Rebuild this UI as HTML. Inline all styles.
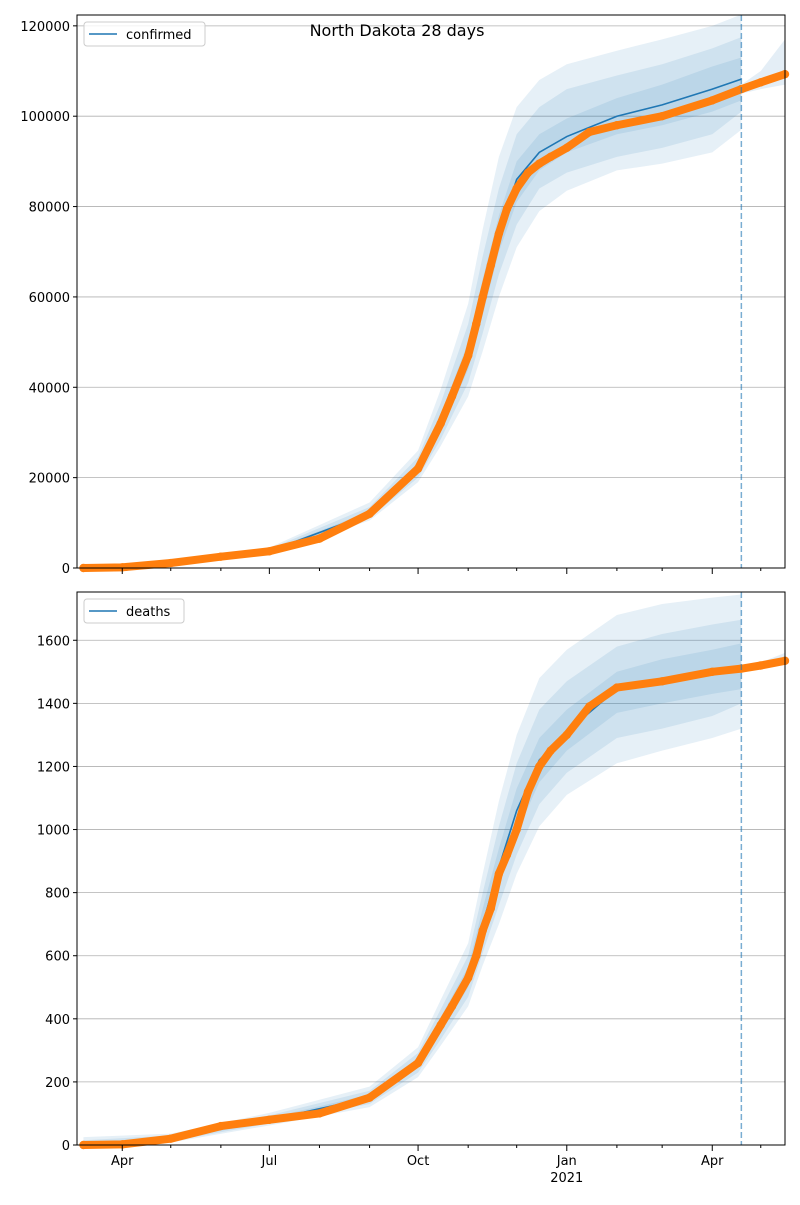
<!DOCTYPE html>
<html><head><meta charset="utf-8"><style>
body{margin:0;background:#fff;font-family:"Liberation Sans","DejaVu Sans",sans-serif}
svg text{font-family:"DejaVu Sans","Liberation Sans",sans-serif;font-size:13px}
</style></head><body>
<svg id="c" width="800" height="1200" xmlns="http://www.w3.org/2000/svg"></svg>
<script>
const obsDates=["2020-03-08","2020-04-01","2020-05-01","2020-06-01","2020-07-01","2020-08-01","2020-09-01","2020-10-01","2020-10-15","2020-10-22","2020-11-01","2020-11-06","2020-11-10","2020-11-15","2020-11-20","2020-11-25","2020-12-01","2020-12-08","2020-12-15","2020-12-22","2021-01-01","2021-01-15","2021-02-01","2021-03-01","2021-04-01","2021-04-19","2021-05-01","2021-05-16"];
const confirmedObs=[0,150,1100,2500,3700,6500,12000,22000,32000,38000,47000,54000,60000,67000,74000,79500,84000,87500,89500,91000,93000,96500,98000,100000,103500,106000,107500,109300];
const deathsObs=[0,2,20,60,80,100,150,260,380,440,530,600,680,750,860,920,1000,1120,1200,1250,1300,1390,1450,1470,1500,1510,1520,1535];
const modelDates=["2020-03-08","2020-05-01","2020-07-01","2020-09-01","2020-10-01","2020-10-15","2020-11-01","2020-11-10","2020-11-20","2020-12-01","2020-12-15","2021-01-01","2021-02-01","2021-03-01","2021-04-01","2021-04-19"];
const confMed=[0,1100,3700,12000,22000,32000,47000,60000,74000,86000,92000,95500,100000,102500,106000,108200];
const confLo1=[0,1000,3500,11500,21000,30000,44000,56000,70000,81000,88000,92000,96000,98000,101000,103500];
const confHi1=[200,1200,3900,12500,23000,34000,50000,64000,78000,90000,96000,99500,104000,107000,111000,113000];
const confLo2=[0,900,3300,11000,20000,28500,41000,52000,65000,76000,84000,87500,91000,93000,96000,101000];
const confHi2=[300,1400,4200,13500,24500,36500,54000,69000,84000,96000,102000,106000,109000,111500,115000,117500];
const confLo3=[0,800,3100,10500,19000,27000,38000,48000,60000,71000,79000,83500,88000,89500,92000,97000];
const confHi3=[500,1600,4500,14500,26000,39500,58500,75000,91000,102000,108000,111500,114500,117000,120000,122500];
const dMed=[0,20,80,150,260,380,530,700,880,1060,1220,1310,1445,1470,1495,1505];
const dLo1=[0,16,74,140,245,355,500,650,820,990,1150,1250,1370,1400,1430,1445];
const dHi1=[5,24,86,160,275,405,565,750,940,1130,1290,1380,1500,1540,1570,1590];
const dLo2=[0,12,68,130,230,335,470,610,760,920,1080,1180,1290,1320,1360,1400];
const dHi2=[15,30,94,172,292,430,600,800,1010,1210,1380,1470,1580,1620,1650,1665];
const dLo3=[0,8,62,120,215,315,440,570,700,860,1010,1110,1210,1250,1290,1320];
const dHi3=[25,36,102,185,310,460,640,860,1090,1300,1480,1570,1680,1715,1735,1745];
const postDates=["2021-04-19","2021-05-01","2021-05-16"];
const confPostLo=[105000,106000,107000],confPostHi=[107000,110000,117000];
const dPostLo=[1505,1515,1525],dPostHi=[1515,1530,1560];
const yTicksConf=[0,20000,40000,60000,80000,100000,120000];
const yTicksDeath=[0,200,400,600,800,1000,1200,1400,1600];
const majorTicks=[["2020-04-01","Apr"],["2020-07-01","Jul"],["2020-10-01","Oct"],["2021-01-01","Jan"],["2021-04-01","Apr"]];
const minorTicks=["2020-05-01","2020-06-01","2020-08-01","2020-09-01","2020-11-01","2020-12-01","2021-02-01","2021-03-01","2021-05-01"];
const forecastDate="2021-04-19";

const svg=document.getElementById('c');const NS="http://www.w3.org/2000/svg";
const T0=Date.UTC(2020,2,4),T1=Date.UTC(2021,4,16);
const L=77,R=785;
function day(s){const p=s.split('-');return Date.UTC(+p[0],p[1]-1,+p[2]);}
function X(s){return L+(day(s)-T0)/(T1-T0)*(R-L);}
function el(t,a,p){const e=document.createElementNS(NS,t);for(const k in a)e.setAttribute(k,a[k]);(p||svg).appendChild(e);return e;}
function panel(top,bot,ymax,ticks,med,bands,obs,postLo,postHi,legend,name){
  const g=el('g',{});
  const Y=v=>bot-v/ymax*(bot-top);
  ticks.forEach(t=>{const y=Y(t);
    const ln=el('line',{x1:L,x2:R,y1:y,y2:y,stroke:'#b0b0b0','stroke-width':0.8},g);
    el('line',{x1:L-4,x2:L,y1:y,y2:y,stroke:'#000'},g);
    const tx=el('text',{x:L-7,y:y+5,'text-anchor':'end'},g);tx.textContent=t;});
  bands.forEach(b=>{let d='';modelDates.forEach((s,i)=>d+=(i?'L':'M')+X(s)+','+Y(b[1][i]));
    for(let i=modelDates.length-1;i>=0;i--)d+='L'+X(modelDates[i])+','+Y(b[0][i]);
    const p=el('path',{d:d+'Z',fill:'#1f77b4','fill-opacity':0.11},g);});
  let pd='';postDates.forEach((s,i)=>pd+=(i?'L':'M')+X(s)+','+Y(postHi[i]));
  for(let i=postDates.length-1;i>=0;i--)pd+='L'+X(postDates[i])+','+Y(postLo[i]);
  const pp=el('path',{d:pd+'Z',fill:'#1f77b4','fill-opacity':0.12},g);
  let ml='';modelDates.forEach((s,i)=>ml+=(i?'L':'M')+X(s)+','+Y(med[i]));
  const m=el('path',{d:ml,fill:'none',stroke:'#1f77b4','stroke-width':1.6},g);
  let ol='';obsDates.forEach((s,i)=>ol+=(i?'L':'M')+X(s)+','+Y(obs[i]));
  const o=el('path',{d:ol,fill:'none',stroke:'#ff7f0e','stroke-width':8,'stroke-linecap':'round','stroke-linejoin':'round'},g);
  obsDates.forEach((s,i)=>{const c=el('circle',{cx:X(s),cy:Y(obs[i]),r:4.2,fill:'#ff7f0e'},g);});
  const fx=X(forecastDate);
  const v=el('line',{x1:fx,x2:fx,y1:top,y2:bot,stroke:'#1f77b4','stroke-opacity':0.6,'stroke-width':1.5,'stroke-dasharray':'6,3'},g);
  const fr=el('rect',{x:L,y:top,width:R-L,height:bot-top,fill:'none',stroke:'#000','stroke-width':1},g);
  majorTicks.forEach(t=>{const x=X(t[0]);el('line',{x1:x,x2:x,y1:bot,y2:bot+6,stroke:'#000'},g);
    if(top>100){const tx=el('text',{x:x,y:bot+20,'text-anchor':'middle'},g);tx.textContent=t[1];}});
  minorTicks.forEach(s=>{const x=X(s);el('line',{x1:x,x2:x,y1:bot,y2:bot+3,stroke:'#000'},g);});
  const lg=el('g',{},g);
  el('rect',{x:84,y:top+7,width:legend.length*7+58,height:24,rx:3,fill:'#fff','fill-opacity':0.8,stroke:'#ccc'},lg);
  el('line',{x1:89,x2:117,y1:top+19,y2:top+19,stroke:'#1f77b4','stroke-width':1.6},lg);
  const lt=el('text',{x:126,y:top+24},lg);lt.textContent=legend;
}
panel(15,568,122400,yTicksConf,confMed,[[confLo3,confHi3],[confLo2,confHi2],[confLo1,confHi1]],confirmedObs,confPostLo,confPostHi,'confirmed','confirmed-panel');
panel(592,1145,1753,yTicksDeath,dMed,[[dLo3,dHi3],[dLo2,dHi2],[dLo1,dHi1]],deathsObs,dPostLo,dPostHi,'deaths','deaths-panel');
const yr=el('text',{x:X("2021-01-01"),y:1182,'text-anchor':'middle'});yr.textContent='2021';

const ti=el('text',{x:397,y:36,'text-anchor':'middle',style:'font-size:16px'});ti.textContent='North Dakota 28 days';

</script></body></html>
